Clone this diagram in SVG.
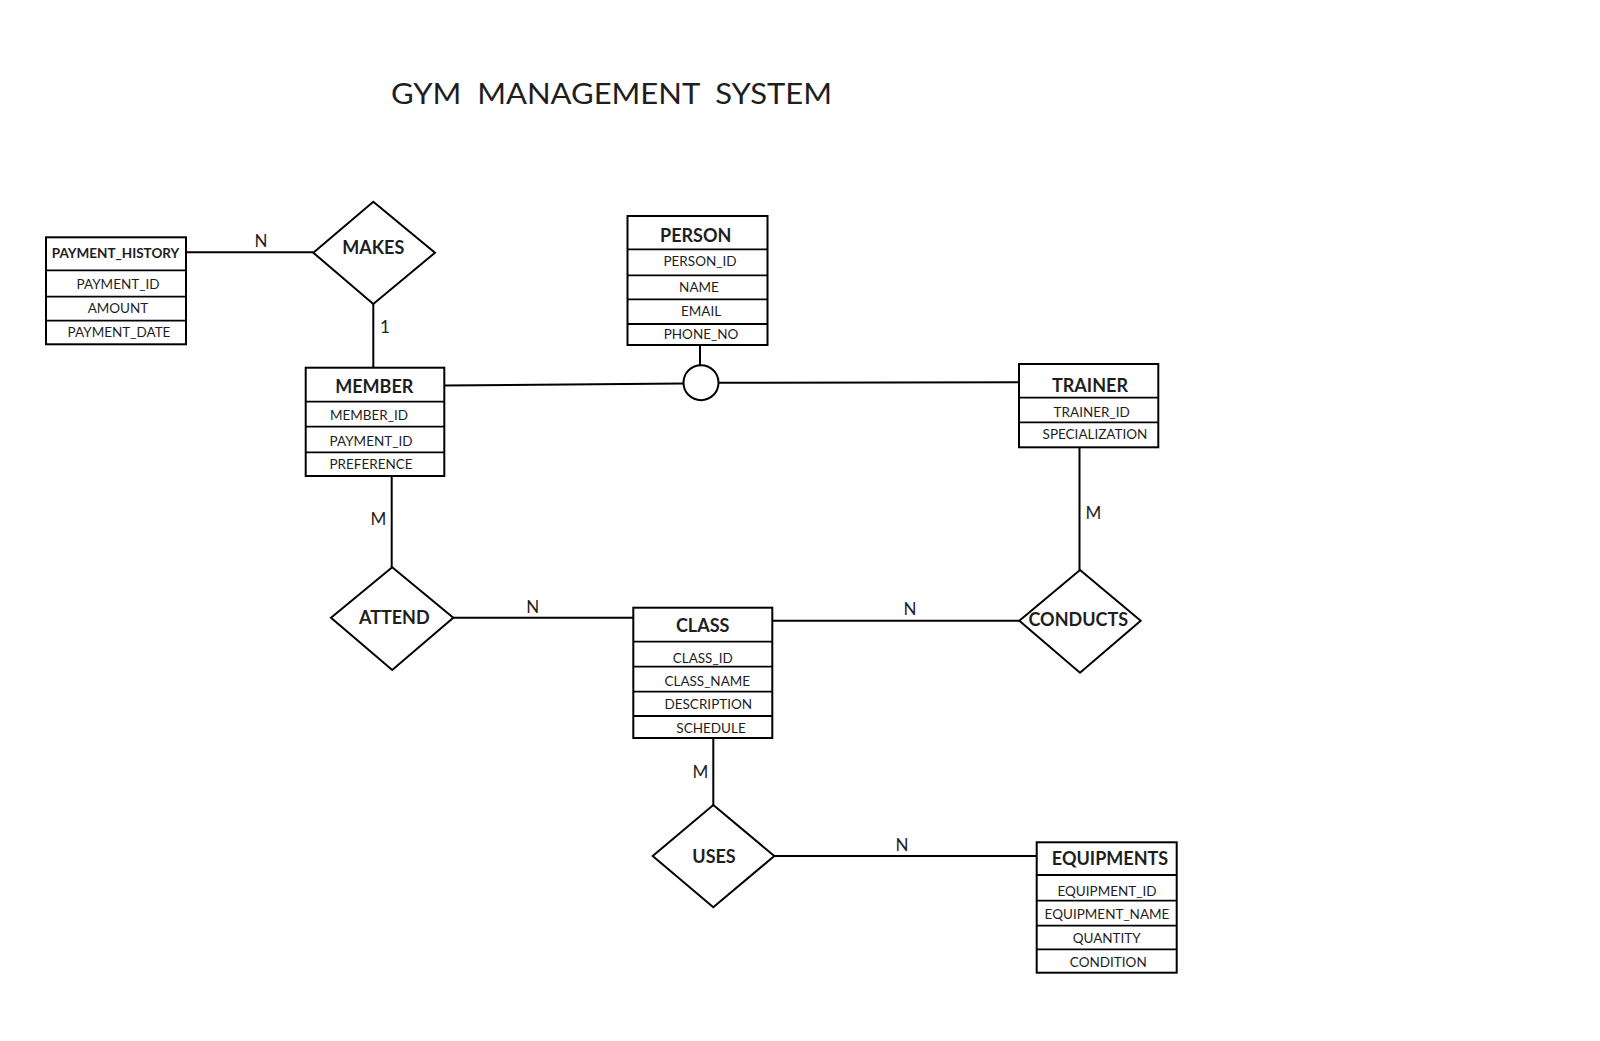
<svg xmlns="http://www.w3.org/2000/svg" width="1600" height="1041" viewBox="0 0 1600 1041">
<style>
  text { font-family: Lato, "Liberation Sans", sans-serif; fill: #1e1e1e; }
  .title { font-size: 29px; white-space: pre; }
  .hdr { font-size: 18px; font-weight: bold; text-anchor: middle; }
  .hdr-s { font-size: 13.5px; font-weight: bold; text-anchor: middle; }
  .attr { font-size: 13.5px; text-anchor: middle; }
  .rel { font-size: 18px; font-weight: bold; text-anchor: middle; }
  .card { font-size: 17px; text-anchor: middle; }
  .box { fill: #fff; stroke: #000; stroke-width: 2; }
  .row { stroke: #000; stroke-width: 1.8; fill: none; }
  .dia { fill: #fff; stroke: #000; stroke-width: 2; }
  .conn line { stroke: #000; stroke-width: 2; }
</style>
<rect width="1600" height="1041" fill="#fff"/>
<text class="title" x="391" y="104" textLength="441" lengthAdjust="spacingAndGlyphs">GYM  MANAGEMENT  SYSTEM</text>

<g id="connectors" class="conn">
  <line x1="186" y1="252.3" x2="313.3" y2="252.3"/>
  <line x1="373.3" y1="304" x2="373.3" y2="367.7"/>
  <line x1="444.3" y1="385.5" x2="683.5" y2="383.5"/>
  <line x1="700" y1="345" x2="700" y2="365.2"/>
  <line x1="718.5" y1="382.7" x2="1019" y2="382.3"/>
  <line x1="391.7" y1="476" x2="391.7" y2="567.3"/>
  <line x1="453.3" y1="617.7" x2="633.3" y2="617.7"/>
  <line x1="772.3" y1="620.7" x2="1019.3" y2="620.7"/>
  <line x1="1079.5" y1="447.3" x2="1079.5" y2="570"/>
  <line x1="713.3" y1="738" x2="713.3" y2="805"/>
  <line x1="774.3" y1="856" x2="1036.7" y2="856"/>
  <text class="card" x="261" y="246.7">N</text>
  <text class="card" x="385" y="333.3">1</text>
  <text class="card" x="378.3" y="525">M</text>
  <text class="card" x="532.7" y="612.7">N</text>
  <text class="card" x="910" y="615">N</text>
  <text class="card" x="1093.3" y="519.3">M</text>
  <text class="card" x="700.5" y="778">M</text>
  <text class="card" x="902" y="851">N</text>
</g>

<g id="payment_history">
  <rect class="box" x="46" y="237.3" width="140" height="107"/>
  <line class="row" x1="46" y1="270.3" x2="186" y2="270.3"/>
  <line class="row" x1="46" y1="296.7" x2="186" y2="296.7"/>
  <line class="row" x1="46" y1="320.7" x2="186" y2="320.7"/>
  <text class="hdr-s" x="115.5" y="258.3">PAYMENT_HISTORY</text>
  <text class="attr" x="118" y="289">PAYMENT_ID</text>
  <text class="attr" x="118" y="312.7">AMOUNT</text>
  <text class="attr" x="119" y="337.3">PAYMENT_DATE</text>
</g>

<g id="makes">
  <polygon class="dia" points="373.3,201.7 435,252.7 373.3,304 313.3,252.7"/>
  <text class="rel" x="373.3" y="254">MAKES</text>
</g>

<g id="person">
  <rect class="box" x="627.5" y="216" width="140" height="129"/>
  <line class="row" x1="627.5" y1="249.3" x2="767.5" y2="249.3"/>
  <line class="row" x1="627.5" y1="275.3" x2="767.5" y2="275.3"/>
  <line class="row" x1="627.5" y1="299.3" x2="767.5" y2="299.3"/>
  <line class="row" x1="627.5" y1="324" x2="767.5" y2="324"/>
  <text class="hdr" x="695.7" y="241.7">PERSON</text>
  <text class="attr" x="700" y="265.7">PERSON_ID</text>
  <text class="attr" x="699" y="291.7">NAME</text>
  <text class="attr" x="701" y="315.7">EMAIL</text>
  <text class="attr" x="701" y="339.3">PHONE_NO</text>
</g>

<g id="isa">
  <circle cx="701" cy="382.7" r="17.5" fill="#fff" stroke="#000" stroke-width="2"/>
</g>

<g id="member">
  <rect class="box" x="305.7" y="367.7" width="138.6" height="108.3"/>
  <line class="row" x1="305.7" y1="401.7" x2="444.3" y2="401.7"/>
  <line class="row" x1="305.7" y1="426.7" x2="444.3" y2="426.7"/>
  <line class="row" x1="305.7" y1="452.3" x2="444.3" y2="452.3"/>
  <text class="hdr" x="374.3" y="393.3">MEMBER</text>
  <text class="attr" x="369" y="420">MEMBER_ID</text>
  <text class="attr" x="371" y="446">PAYMENT_ID</text>
  <text class="attr" x="371" y="469.3">PREFERENCE</text>
</g>

<g id="trainer">
  <rect class="box" x="1019" y="364" width="139.3" height="83.3"/>
  <line class="row" x1="1019" y1="397.7" x2="1158.3" y2="397.7"/>
  <line class="row" x1="1019" y1="422.3" x2="1158.3" y2="422.3"/>
  <text class="hdr" x="1090" y="391.7">TRAINER</text>
  <text class="attr" x="1091.7" y="417.3">TRAINER_ID</text>
  <text class="attr" x="1095" y="439.3">SPECIALIZATION</text>
</g>

<g id="attend">
  <polygon class="dia" points="392.2,567.3 453.3,617.7 392.2,670 331,617.7"/>
  <text class="rel" x="394.3" y="624">ATTEND</text>
</g>

<g id="class">
  <rect class="box" x="633.3" y="607.7" width="139" height="130.3"/>
  <line class="row" x1="633.3" y1="641.7" x2="772.3" y2="641.7"/>
  <line class="row" x1="633.3" y1="666.7" x2="772.3" y2="666.7"/>
  <line class="row" x1="633.3" y1="691.7" x2="772.3" y2="691.7"/>
  <line class="row" x1="633.3" y1="716" x2="772.3" y2="716"/>
  <text class="hdr" x="702.7" y="632.3">CLASS</text>
  <text class="attr" x="702.7" y="662.7">CLASS_ID</text>
  <text class="attr" x="707.3" y="685.7">CLASS_NAME</text>
  <text class="attr" x="708.3" y="709.3">DESCRIPTION</text>
  <text class="attr" x="711" y="733.3">SCHEDULE</text>
</g>

<g id="conducts">
  <polygon class="dia" points="1080,570 1140.7,620.7 1080,672.7 1019.3,620.7"/>
  <text class="rel" x="1078.3" y="626">CONDUCTS</text>
</g>

<g id="uses">
  <polygon class="dia" points="713.3,805 774.3,856 713.3,907.3 652.7,856"/>
  <text class="rel" x="714" y="863.3">USES</text>
</g>

<g id="equipments">
  <rect class="box" x="1036.7" y="842.3" width="140" height="130.4"/>
  <line class="row" x1="1036.7" y1="875" x2="1176.7" y2="875"/>
  <line class="row" x1="1036.7" y1="900.7" x2="1176.7" y2="900.7"/>
  <line class="row" x1="1036.7" y1="925.7" x2="1176.7" y2="925.7"/>
  <line class="row" x1="1036.7" y1="949.3" x2="1176.7" y2="949.3"/>
  <text class="hdr" x="1110" y="865">EQUIPMENTS</text>
  <text class="attr" x="1107" y="895.7">EQUIPMENT_ID</text>
  <text class="attr" x="1107" y="919.3">EQUIPMENT_NAME</text>
  <text class="attr" x="1106.7" y="942.7">QUANTITY</text>
  <text class="attr" x="1108.3" y="966.7">CONDITION</text>
</g>
</svg>
